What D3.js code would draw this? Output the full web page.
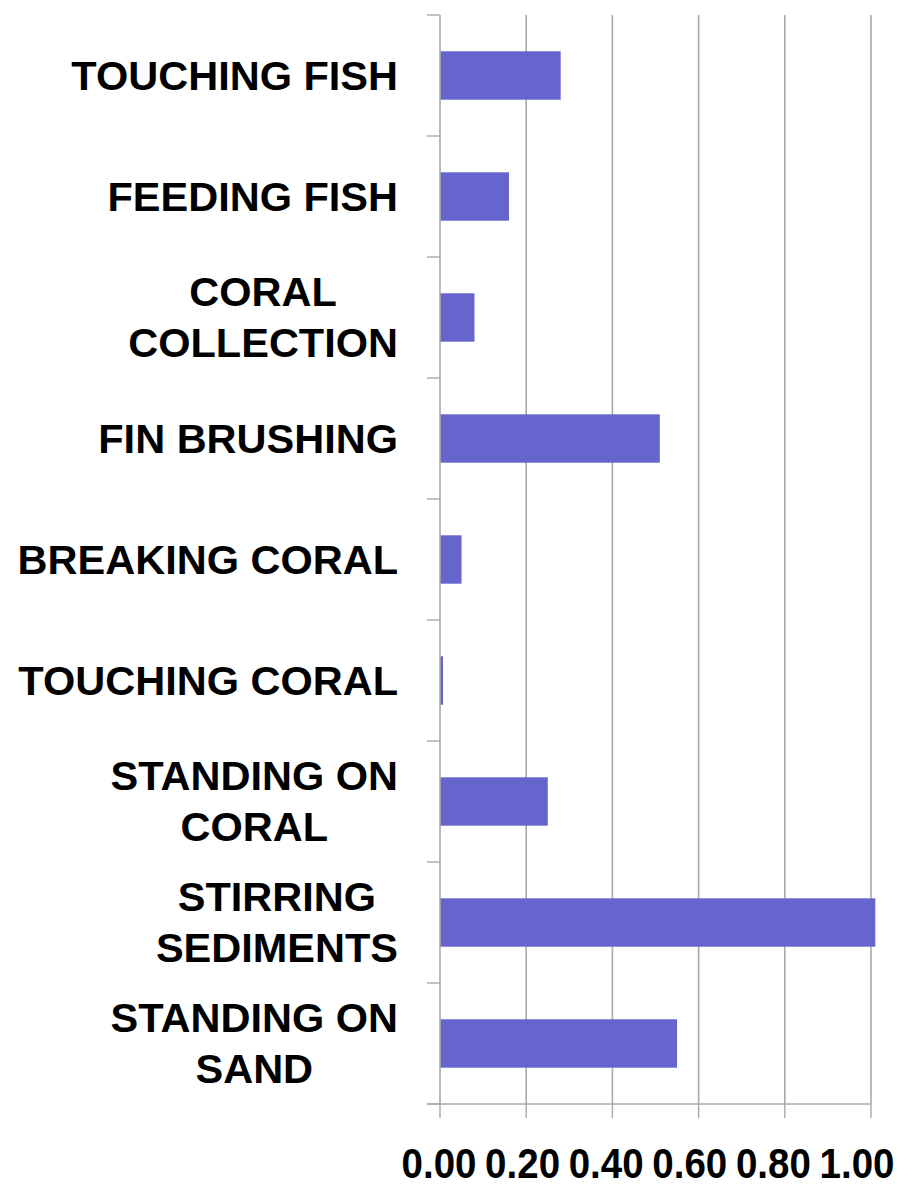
<!DOCTYPE html>
<html>
<head>
<meta charset="utf-8">
<script src="https://cdn.jsdelivr.net/npm/d3@7"></script>
<style>
  html, body { margin: 0; padding: 0; background: #fff; }
  svg { display: block; }
  text { font-family: "Liberation Sans", Arial, Helvetica, sans-serif; font-weight: bold; fill: #000; }
</style>
</head>
<body>
<svg id="chart" width="914" height="1189"></svg>
<script>
const categories = [
  "TOUCHING FISH",
  "FEEDING FISH",
  "CORAL\nCOLLECTION",
  "FIN BRUSHING",
  "BREAKING CORAL",
  "TOUCHING CORAL",
  "STANDING ON\nCORAL",
  "STIRRING\nSEDIMENTS",
  "STANDING ON\nSAND"
];
const values = [0.28, 0.16, 0.08, 0.51, 0.05, 0.007, 0.25, 1.01, 0.55];
const tickValues = [0, 0.2, 0.4, 0.6, 0.8, 1.0];
const tickLabels = ["0.00", "0.20", "0.40", "0.60", "0.80", "1.00"];

(function () {
const svg = d3.select("#chart");
const mLeft = 440, mRight = 871, mTop = 15, mBottom = 1104;
const gridColor = "#a9a9a9";

const x = d3.scaleLinear().domain([0, 1]).range([mLeft, mRight]);
// tick labels in the reference sit on slightly tighter spacing than the gridlines
const xLabel = d3.scaleLinear().domain([0, 1]).range([mLeft - 1, 857]);
const y = d3.scaleBand().domain(categories).range([mTop, mBottom]).paddingInner(0.6).paddingOuter(0.3);
const yEdges = d3.scaleBand().domain(categories).range([mTop, mBottom]).padding(0);

// gridlines
svg.append("g").selectAll("line").data(tickValues.slice(1)).join("line")
  .attr("x1", d => x(d)).attr("x2", d => x(d))
  .attr("y1", mTop).attr("y2", mBottom)
  .attr("stroke", gridColor).attr("stroke-width", 1.6);

// bars
svg.append("g").selectAll("rect").data(categories).join("rect")
  .attr("x", x(0))
  .attr("y", d => y(d))
  .attr("width", (d, i) => x(values[i]) - x(0))
  .attr("height", y.bandwidth())
  .attr("fill", "#6565cd");

// category axis line
svg.append("line").attr("x1", mLeft).attr("x2", mLeft).attr("y1", mTop).attr("y2", mBottom)
  .attr("stroke", gridColor).attr("stroke-width", 1.6);
// category tick marks at band edges
const edges = categories.map(c => yEdges(c)).concat([mBottom]);
svg.append("g").selectAll("line").data(edges).join("line")
  .attr("x1", mLeft - 13).attr("x2", mLeft)
  .attr("y1", d => d).attr("y2", d => d)
  .attr("stroke", gridColor).attr("stroke-width", 1.4);

// value axis line + ticks
svg.append("line").attr("x1", mLeft - 13).attr("x2", mRight).attr("y1", mBottom).attr("y2", mBottom)
  .attr("stroke", gridColor).attr("stroke-width", 1.6);
svg.append("g").selectAll("line").data(tickValues).join("line")
  .attr("x1", d => x(d)).attr("x2", d => x(d))
  .attr("y1", mBottom).attr("y2", mBottom + 14)
  .attr("stroke", gridColor).attr("stroke-width", 1.4);

// value tick labels
svg.append("g").selectAll("text").data(tickValues).join("text")
  .attr("x", d => xLabel(d))
  .attr("y", 1178)
  .attr("text-anchor", "middle")
  .attr("textLength", 75)
  .attr("lengthAdjust", "spacingAndGlyphs")
  .style("font-size", "42px")
  .text((d, i) => tickLabels[i]);

// category labels
const labelRight = 398;
const lineGap = 51;
const gLab = svg.append("g");
categories.forEach(c => {
  const lines = c.split("\n");
  const center = yEdges(c) + yEdges.bandwidth() / 2;
  const t = gLab.append("text").style("font-size", "41.5px").attr("text-anchor", "middle");
  const tspans = lines.map(ln => t.append("tspan").text(ln));
  const widths = tspans.map(ts => ts.node().getComputedTextLength());
  const w = d3.max(widths);
  const cx = labelRight - w / 2;
  const firstBaseline = center + 14 - (lines.length - 1) * lineGap / 2;
  tspans.forEach((ts, k) => ts.attr("x", cx).attr("y", firstBaseline + k * lineGap));
});
})();
</script>
</body>
</html>
